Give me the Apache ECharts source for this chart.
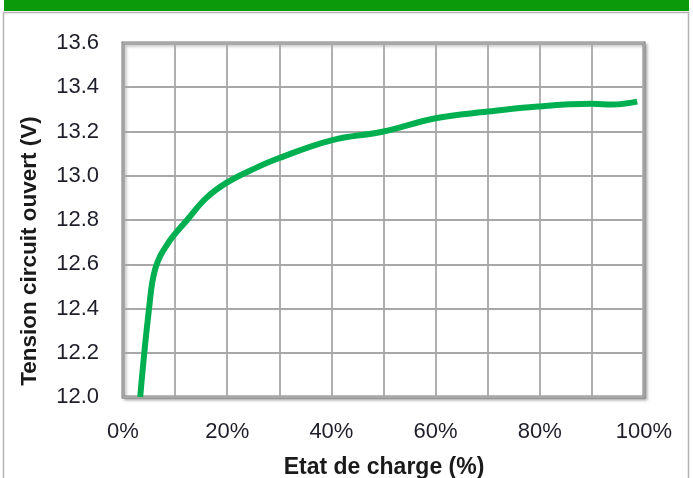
<!DOCTYPE html>
<html>
<head>
<meta charset="utf-8">
<script src="https://cdn.jsdelivr.net/npm/echarts@6/dist/echarts.min.js"></script>
<style>
html,body{margin:0;padding:0;background:#fff;}
#chart{width:693px;height:478px;}
</style>
</head>
<body>
<div id="chart"></div>
<script>
const stateOfCharge = [3.3, 5.0, 6.2, 8.5, 12.3, 16, 20, 25, 30, 40, 50, 60, 70, 78, 90, 94, 98.7];
const voltage = [12.0, 12.4, 12.58, 12.69, 12.8, 12.9, 12.97, 13.03, 13.08, 13.16, 13.2, 13.26, 13.29, 13.31, 13.325, 13.322, 13.335];
const xTickLabels = ['0%', '20%', '40%', '60%', '80%', '100%'];
const xTitle = 'Etat de charge (%)';
const yTitle = 'Tension circuit ouvert (V)';

const chart = echarts.init(document.getElementById('chart'), null, {renderer: 'canvas'});
const labelFont = {fontFamily: 'Liberation Sans', fontSize: 22, color: '#1e1e2a'};

chart.setOption({
  animation: false,
  backgroundColor: '#ffffff',
  graphic: [
    {type: 'rect', shape: {x: 4, y: 0, width: 685, height: 11}, style: {fill: '#0a9a0a'}, z: 1},
    {type: 'rect', shape: {x: 3.5, y: 12.5, width: 685, height: 480}, style: {fill: 'none', stroke: '#b4b4b4', lineWidth: 1.5}, z: 1},
    {type: 'text', x: 384, y: 468, style: {text: xTitle, fontFamily: 'Liberation Sans', fontWeight: 'bold', fontSize: 23, fill: '#1a1a1a', textAlign: 'center', textVerticalAlign: 'middle'}, z: 5},
    {type: 'text', x: 30, y: 251, rotation: Math.PI / 2, style: {text: yTitle, fontFamily: 'Liberation Sans', fontWeight: 'bold', fontSize: 22.5, fill: '#1a1a1a', textAlign: 'center', textVerticalAlign: 'middle'}, z: 5}
  ],
  grid: {
    left: 123, top: 43, width: 521, height: 354,
    show: true, backgroundColor: '#ffffff', borderColor: '#7a7a7a', borderWidth: 3,
    shadowColor: 'rgba(0,0,0,0.25)', shadowBlur: 3, shadowOffsetX: 2, shadowOffsetY: 2
  },
  xAxis: {
    type: 'value', min: 0, max: 100, interval: 10,
    axisLine: {show: false}, axisTick: {show: false},
    splitLine: {show: true, lineStyle: {color: '#a8a8a8', width: 1.8}},
    axisLabel: Object.assign({
      margin: 24,
      formatter: v => (v % 20 === 0 ? xTickLabels[v / 20] : '')
    }, labelFont)
  },
  yAxis: {
    type: 'value', min: 12.0, max: 13.6, interval: 0.2,
    axisLine: {show: false}, axisTick: {show: false},
    splitLine: {show: true, lineStyle: {color: '#a8a8a8', width: 1.8}},
    axisLabel: Object.assign({
      margin: 24,
      formatter: v => v.toFixed(1)
    }, labelFont)
  },
  series: [{
    type: 'line',
    data: stateOfCharge.map((x, i) => [x, voltage[i]]),
    smooth: 0.4,
    showSymbol: false,
    lineStyle: {color: '#00b050', width: 6},
    z: 3
  }]
});
</script>
</body>
</html>
